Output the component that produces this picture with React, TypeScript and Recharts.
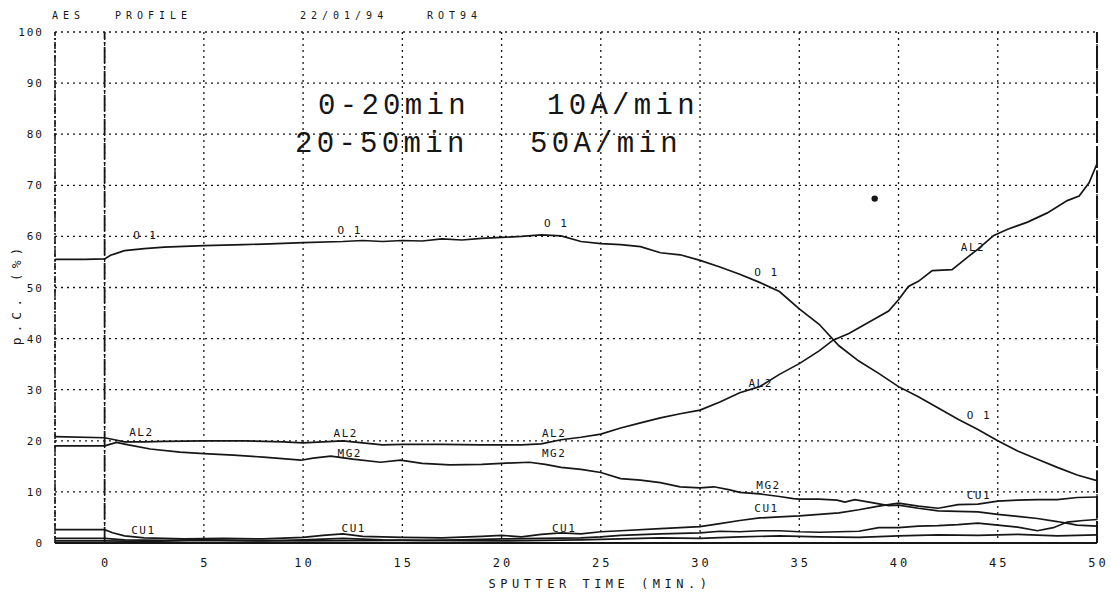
import React from 'react';
import { LineChart, Line, XAxis, YAxis, CartesianGrid, ReferenceLine, ReferenceDot } from 'recharts';

// AES depth profile, sputter time (min) vs atomic concentration (%)
const o1Time = [-2.5, -1, 0, 0.3, 1, 2, 3, 5, 7, 8, 10, 12, 13, 14, 15, 16, 17, 18, 19, 20, 21, 22, 23, 24, 25, 26, 27, 28, 29, 30, 31, 32, 33, 34, 35, 36, 37, 38, 39, 40, 41, 42, 43, 44, 45, 46, 47, 48, 49, 50];
const o1Conc = [55.5, 55.5, 55.6, 56.3, 57.2, 57.6, 57.9, 58.2, 58.4, 58.5, 58.8, 59.0, 59.2, 59.0, 59.2, 59.1, 59.5, 59.3, 59.6, 59.8, 60.0, 60.3, 60.1, 59.0, 58.6, 58.4, 58.0, 56.8, 56.4, 55.3, 54.0, 52.6, 51.0, 49.2, 45.8, 42.8, 38.6, 35.6, 33.2, 30.6, 28.6, 26.4, 24.2, 22.2, 20.0, 18.0, 16.4, 14.8, 13.3, 12.2];

const al2Time = [-2.5, 0, 0.5, 1, 2, 3, 5, 7, 9, 10, 11, 12, 13, 14, 15, 17, 19, 20, 21, 22, 23, 24, 25, 26, 27, 28, 29, 30, 31, 32, 33, 34, 35, 36, 36.7, 37.5, 38.5, 39.5, 40, 40.5, 41, 41.7, 42.7, 43.5, 44, 44.8, 45.5, 46.5, 47.5, 48.5, 49.1, 49.6, 50];
const al2Conc = [20.8, 20.6, 20.2, 19.8, 19.8, 19.9, 20.0, 20.0, 19.8, 19.6, 19.8, 20.0, 19.6, 19.2, 19.3, 19.3, 19.2, 19.2, 19.2, 19.4, 20.2, 20.7, 21.3, 22.5, 23.5, 24.5, 25.3, 26.0, 27.6, 29.4, 30.6, 33.0, 35.1, 37.6, 39.7, 41.0, 43.2, 45.4, 47.6, 50.2, 51.2, 53.3, 53.5, 56.0, 57.5, 60.2, 61.4, 62.8, 64.6, 67.0, 67.9, 70.5, 74.2];

const mg2Time = [-2.5, 0, 0.6, 1.2, 2.3, 3.8, 5, 6.5, 8, 9.9, 10.5, 11.4, 12.5, 13.9, 14.9, 16, 17.4, 19, 20, 21.4, 22.2, 23, 24, 25, 26, 27, 28, 29, 30, 30.7, 31.5, 32, 33, 34, 34.7, 35, 36, 36.9, 37.3, 37.8, 38.8, 39.5, 40, 41, 42, 43, 44, 45, 46, 47, 48, 49, 50];
const mg2Conc = [19.0, 19.0, 19.7, 19.2, 18.4, 17.8, 17.5, 17.2, 16.8, 16.2, 16.6, 17.0, 16.4, 15.8, 16.2, 15.6, 15.3, 15.4, 15.6, 15.8, 15.4, 14.8, 14.4, 13.8, 12.6, 12.3, 11.8, 11.0, 10.8, 11.0, 10.4, 9.9, 9.6, 9.1, 8.7, 8.6, 8.6, 8.4, 8.0, 8.5, 7.8, 7.3, 7.4, 6.8, 6.3, 6.2, 6.1, 5.6, 5.2, 4.8, 4.2, 3.5, 3.3];

const cu1Time = [-2.5, 0, 0.4, 1, 2, 4, 6, 8, 10, 11, 12, 13, 15, 17, 19, 20, 21, 22, 23, 24, 25, 26, 28, 30, 31, 32, 33, 34, 35, 36, 37, 38, 39, 40, 41, 42, 43, 44, 45, 46, 47, 48, 49, 50];
const cu1Conc = [2.6, 2.6, 2.0, 1.4, 1.0, 0.8, 0.9, 0.8, 1.1, 1.5, 1.8, 1.3, 1.1, 1.0, 1.3, 1.5, 1.2, 1.7, 2.0, 1.8, 2.2, 2.4, 2.8, 3.2, 3.8, 4.4, 4.9, 5.1, 5.3, 5.6, 5.9, 6.5, 7.2, 7.8, 7.2, 6.8, 7.5, 7.6, 8.2, 8.4, 8.5, 8.5, 8.9, 9.0];

// two unlabelled minor traces near the baseline
const lowATime = [-2.5, 0, 1, 3, 5, 8, 10, 12, 14, 16, 18, 20, 22, 24, 25, 26, 28, 30, 31, 32, 33, 34, 35, 36, 37, 38, 39, 40, 41, 42, 43, 44, 45, 46, 47, 47.8, 48.5, 49.3, 50];
const lowAConc = [0.9, 0.9, 0.6, 0.5, 0.6, 0.4, 0.6, 0.9, 0.6, 0.5, 0.6, 0.8, 0.9, 1.0, 1.2, 1.5, 1.8, 2.0, 2.3, 2.2, 2.4, 2.4, 2.2, 2.1, 2.2, 2.3, 3.0, 3.0, 3.3, 3.4, 3.6, 3.9, 3.5, 3.1, 2.4, 3.0, 4.1, 4.4, 4.6];

const lowBTime = [-2.5, 0, 2, 5, 10, 15, 20, 24, 26, 28, 30, 32, 34, 36, 38, 40, 42, 44, 46, 48, 50];
const lowBConc = [0.4, 0.4, 0.3, 0.5, 0.4, 0.5, 0.4, 0.6, 0.8, 1.0, 0.9, 1.2, 1.4, 1.2, 1.1, 1.4, 1.6, 1.5, 1.7, 1.4, 1.6];

const xTicks = [0, 5, 10, 15, 20, 25, 30, 35, 40, 45, 50];
const yTicks = [0, 10, 20, 30, 40, 50, 60, 70, 80, 90, 100];

// plotter tags written along each curve
const tagText = ['O 1', 'O 1', 'O 1', 'O 1', 'O 1', 'AL2', 'AL2', 'AL2', 'AL2', 'AL2', 'MG2', 'MG2', 'MG2', 'CU1', 'CU1', 'CU1', 'CU1', 'CU1'];
const tagTime = [2.0, 12.3, 22.7, 33.3, 44.0, 1.8, 12.1, 22.6, 33.0, 43.7, 12.3, 22.6, 33.4, 1.9, 12.5, 23.1, 33.3, 44.0];
const tagConc = [60.3, 61.3, 62.6, 53.0, 25.0, 21.7, 21.5, 21.5, 31.3, 57.9, 17.6, 17.6, 11.4, 2.5, 2.9, 2.9, 6.8, 9.4];

const MONO = '"DejaVu Sans Mono", "Liberation Mono", monospace';
const THIN = '"Liberation Mono", monospace';
const INK = '#161616';

const toPoints = (ts: number[], vs: number[]) => ts.map((t, i) => ({ t, v: vs[i] }));

const traces = [
  toPoints(o1Time, o1Conc),
  toPoints(al2Time, al2Conc),
  toPoints(mg2Time, mg2Conc),
  toPoints(cu1Time, cu1Conc),
  toPoints(lowATime, lowAConc),
  toPoints(lowBTime, lowBConc),
];

const XTick = ({ x, payload }: any) => (
  <text x={x + 1.5} y={567} textAnchor="middle" fontFamily={MONO} fontSize={12} letterSpacing={3} fill={INK}>
    {payload.value}
  </text>
);

const YTick = ({ y, payload }: any) => (
  <text x={44} y={y + 4} textAnchor="end" fontFamily={MONO} fontSize={11} letterSpacing={2} fill={INK}>
    {payload.value}
  </text>
);

const tagShape = (text: string) => (p: any) => (
  <text x={p.cx + 1} y={p.cy + 4} textAnchor="middle" fontFamily={MONO} fontSize={11} letterSpacing={1.5} fill={INK}>
    {text}
  </text>
);

export default function App() {
  return (
    <div style={{ position: 'absolute', left: 0, top: 0, width: 1111, height: 597, background: '#fff' }}>
      <LineChart width={1111} height={597} margin={{ top: 32, right: 14, bottom: 0, left: 0 }}>
        <CartesianGrid stroke={INK} strokeDasharray="2 4" strokeWidth={1.3} />
        <XAxis
          type="number"
          dataKey="t"
          domain={[-2.5, 50]}
          ticks={xTicks}
          allowDataOverflow
          height={54}
          axisLine={false}
          tickLine={false}
          tick={<XTick />}
        />
        <YAxis
          type="number"
          domain={[0, 100]}
          ticks={yTicks}
          width={55}
          axisLine={false}
          tickLine={false}
          tick={<YTick />}
        />
        <ReferenceLine x={-2.5} stroke={INK} strokeWidth={1.6} strokeDasharray="7 2 2 2" />
        <ReferenceLine x={0} stroke={INK} strokeWidth={1.8} strokeDasharray="16 3 2 3" />
        <ReferenceLine x={50} stroke={INK} strokeWidth={2} strokeDasharray="22 3" />
        <ReferenceLine y={0} stroke={INK} strokeWidth={2.2} />
        {traces.map((d, i) => (
          <Line
            key={i}
            data={d}
            dataKey="v"
            type="linear"
            stroke={INK}
            strokeWidth={1.7}
            dot={false}
            activeDot={false}
            isAnimationActive={false}
          />
        ))}
        {tagText.map((s, i) => (
          <ReferenceDot key={'tag' + i} x={tagTime[i]} y={tagConc[i]} r={0} ifOverflow="visible" shape={tagShape(s)} />
        ))}
        <ReferenceDot x={38.8} y={67.4} r={3.2} fill={INK} stroke="none" />
      </LineChart>

      <svg width={1111} height={597} style={{ position: 'absolute', left: 0, top: 0, pointerEvents: 'none' }}>
        <g fontFamily={MONO} fill={INK} fontSize={10} letterSpacing={5}>
          <text x={52} y={19}>AES</text>
          <text x={115} y={19}>PROFILE</text>
          <text x={300} y={19}>22/01/94</text>
          <text x={427} y={19}>ROT94</text>
        </g>
        <g fontFamily={THIN} fill={INK} fontSize={29} letterSpacing={4.3}>
          <text x={318} y={114}>0-20min</text>
          <text x={547} y={114}>10A/min</text>
          <text x={295} y={152}>20-50min</text>
          <text x={530} y={152}>50A/min</text>
        </g>
        <text
          transform="translate(21,294) rotate(-90)"
          textAnchor="middle"
          fontFamily={MONO}
          fontSize={13}
          letterSpacing={5}
          fill={INK}
        >
          p.C. (%)
        </text>
        <text x={600} y={588} textAnchor="middle" fontFamily={MONO} fontSize={12} letterSpacing={4.5} fill={INK}>
          SPUTTER TIME (MIN.)
        </text>
      </svg>
    </div>
  );
}
